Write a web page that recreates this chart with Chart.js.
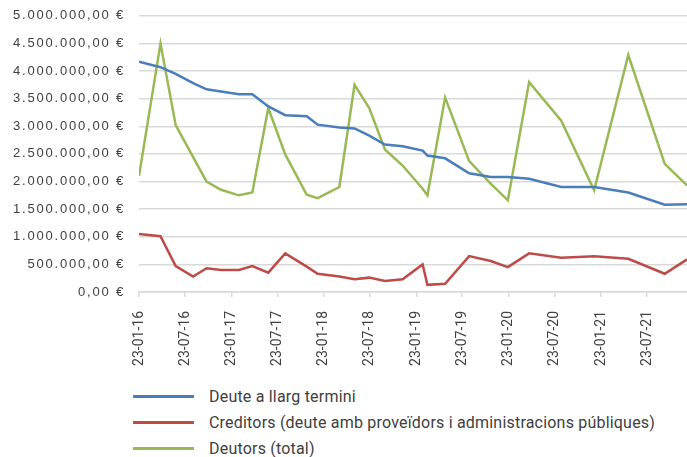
<!DOCTYPE html>
<html>
<head>
<meta charset="utf-8">
<script src="https://cdn.jsdelivr.net/npm/chart.js@4"></script>
<style>
  html, body { margin: 0; padding: 0; background: #fff; }
  #wrap { position: relative; width: 687px; height: 457px; overflow: hidden; }
  #box { position: absolute; left: 0; top: -6px; }
  #legend { position: absolute; left: 133px; top: 383px; font-family: Roboto, sans-serif; font-size: 16px; letter-spacing: 0.2px; color: #404040; }
  .item { height: 26px; display: flex; align-items: center; white-space: nowrap; }
  .swatch { width: 61px; height: 3px; margin-right: 15px; }
</style>
</head>
<body>
<div id="wrap">
  <canvas id="box" width="687" height="386"></canvas>
  <div id="legend"></div>
</div>
<script>
// dades llegides del gràfic
const dates = ["2016-01-23", "2016-04-17", "2016-06-16", "2016-08-24", "2016-10-16", "2016-12-12",
  "2017-02-21", "2017-04-15", "2017-06-17", "2017-08-23", "2017-11-16", "2017-12-29",
  "2018-03-25", "2018-05-24", "2018-07-21", "2018-09-21", "2018-11-30", "2019-02-17",
  "2019-03-08", "2019-05-17", "2019-08-20", "2019-11-13", "2020-01-20", "2020-04-13",
  "2020-08-18", "2020-12-26", "2021-05-10", "2021-10-01", "2021-12-28"];
const deuteLlarg = [4170000, 4070000, 3950000, 3780000, 3670000, 3630000, 3580000, 3580000, 3360000, 3200000,
  3180000, 3030000, 2980000, 2960000, 2830000, 2670000, 2640000, 2560000, 2470000, 2420000,
  2150000, 2080000, 2080000, 2050000, 1900000, 1900000, 1800000, 1580000, 1590000];
const creditors = [1050000, 1010000, 470000, 280000, 430000, 400000, 400000, 470000, 350000, 700000,
  460000, 330000, 280000, 230000, 260000, 200000, 230000, 500000, 130000, 150000,
  650000, 560000, 450000, 700000, 620000, 645000, 600000, 330000, 590000];
const deutors = [2100000, 4500000, 3020000, 2440000, 2000000, 1850000, 1750000, 1800000, 3330000, 2490000,
  1760000, 1700000, 1900000, 3750000, 3330000, 2580000, 2290000, 1870000, 1750000, 3520000,
  2370000, 1960000, 1660000, 3800000, 3100000, 1840000, 4290000, 2320000, 1930000];
const seriesNames = ["Deute a llarg termini",
  "Creditors (deute amb proveïdors i administracions públiques)",
  "Deutors (total)"];
const seriesColors = ["#4a7ebb", "#be4b48", "#98b954"];
const tickLabels = ["23-01-16", "23-07-16", "23-01-17", "23-07-17", "23-01-18", "23-07-18",
  "23-01-19", "23-07-19", "23-01-20", "23-07-20", "23-01-21", "23-07-21"];

// dies des del primer punt
const day = d => (Date.parse(d) - Date.parse(dates[0])) / 86400000;
const tickDay = t => day("20" + t.slice(6, 8) + "-" + t.slice(3, 5) + "-" + t.slice(0, 2));

function euro(v) {
  return String(v).replace(/\B(?=(\d{3})+(?!\d))/g, ".") + ",00 €";
}

const series = [deuteLlarg, creditors, deutors];

const chart = new Chart(document.getElementById("box").getContext("2d"), {
  type: "line",
  data: {
    datasets: series.map((vals, i) => ({
      label: seriesNames[i],
      data: vals.map((v, j) => ({ x: day(dates[j]), y: v })),
      borderColor: seriesColors[i],
      borderWidth: 2.5,
      pointRadius: 0,
      tension: 0,
      fill: false
    }))
  },
  options: {
    responsive: false,
    animation: false,
    layout: { padding: { top: 8, right: 0, bottom: 0, left: 0 } },
    plugins: { legend: { display: false }, tooltip: { enabled: false } },
    scales: {
      x: {
        type: "linear",
        min: 0,
        max: day(dates[dates.length - 1]),
        afterBuildTicks: s => { s.ticks = tickLabels.map(t => ({ value: tickDay(t) })); },
        afterFit: s => { s.height = 88; },
        grid: { drawOnChartArea: false, drawTicks: true, tickLength: 5, color: "#d9d9d9", lineWidth: 1.5 },
        border: { display: true, color: "#d9d9d9", width: 1.5 },
        ticks: {
          autoSkip: false, minRotation: 90, maxRotation: 90, padding: 14,
          color: "#404040", font: { family: "Roboto", size: 14 },
          callback: (v, i) => tickLabels[i]
        }
      },
      y: {
        min: 0,
        max: 5000000,
        afterFit: s => { s.width = 139; },
        grid: { color: "#d9d9d9", lineWidth: 1.5, drawTicks: false },
        border: { display: false },
        ticks: {
          stepSize: 500000, padding: 14,
          color: "#404040", font: { family: "Liberation Sans", size: 13 },
          callback: v => euro(v)
        }
      }
    }
  }
});

// etiquetes de l'eix Y una mica espaiades
const yScale = chart.scales.y;
const drawY = yScale.drawLabels;
yScale.drawLabels = function (area) {
  this.ctx.save();
  this.ctx.letterSpacing = "1.8px";
  drawY.call(this, area);
  this.ctx.restore();
};
chart.draw();

// llegenda
const legend = document.getElementById("legend");
chart.data.datasets.forEach(ds => {
  const row = document.createElement("div");
  row.className = "item";
  const sw = document.createElement("span");
  sw.className = "swatch";
  sw.style.background = ds.borderColor;
  const txt = document.createElement("span");
  txt.textContent = ds.label;
  row.appendChild(sw);
  row.appendChild(txt);
  legend.appendChild(row);
});
</script>
</body>
</html>
